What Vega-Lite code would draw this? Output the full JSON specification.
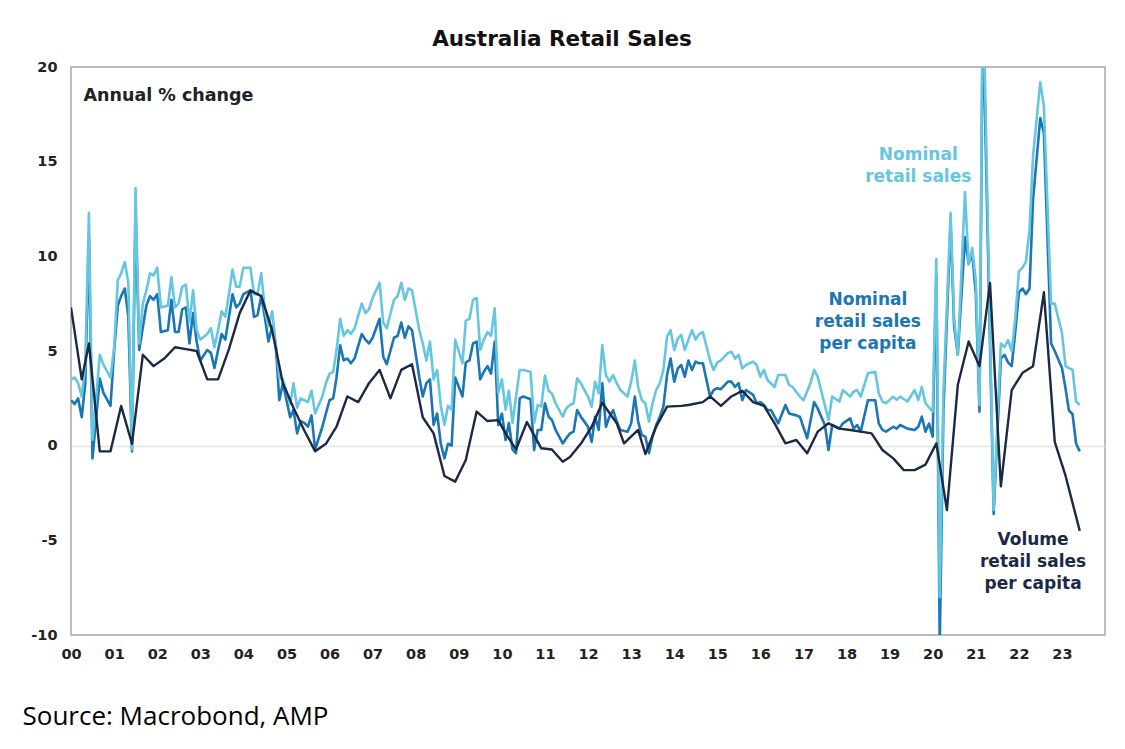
{
  "$schema": "https://vega.github.io/schema/vega-lite/v6.json",
  "width": 1034,
  "height": 568,
  "autosize": {"type": "none"},
  "padding": {"left": 71, "top": 67, "right": 20, "bottom": 114},
  "background": "white",
  "title": {
    "text": "Australia Retail Sales",
    "font": "DejaVu Sans",
    "fontSize": 21.5,
    "fontWeight": "bold",
    "color": "#111111",
    "anchor": "middle",
    "offset": 9,
    "dx": -26
  },
  "datasets": {
    "nominal": [
      {"d":"2000-01","v":3.5},{"d":"2000-02","v":3.6},{"d":"2000-03","v":3.3},{"d":"2000-04","v":2.6},{"d":"2000-05","v":4.3},{"d":"2000-06","v":12.3},{"d":"2000-07","v":0.3},{"d":"2000-09","v":4.8},{"d":"2000-10","v":4.3},{"d":"2000-12","v":3.6},
      {"d":"2001-01","v":5.2},{"d":"2001-02","v":8.75},{"d":"2001-03","v":9.1},{"d":"2001-04","v":9.7},{"d":"2001-05","v":8.6},{"d":"2001-06","v":-0.2},{"d":"2001-07","v":13.6},{"d":"2001-08","v":5.4},{"d":"2001-09","v":7.5},{"d":"2001-10","v":8.2},{"d":"2001-11","v":9.1},{"d":"2001-12","v":9.0},
      {"d":"2002-01","v":9.4},{"d":"2002-02","v":7.3},{"d":"2002-04","v":7.4},{"d":"2002-05","v":8.9},{"d":"2002-06","v":7.3},{"d":"2002-07","v":7.5},{"d":"2002-08","v":8.4},{"d":"2002-09","v":8.5},{"d":"2002-10","v":6.5},{"d":"2002-11","v":8.2},{"d":"2002-12","v":6.1},
      {"d":"2003-01","v":5.6},{"d":"2003-03","v":5.9},{"d":"2003-04","v":6.2},{"d":"2003-05","v":5.2},{"d":"2003-06","v":6.1},{"d":"2003-07","v":7.1},{"d":"2003-08","v":6.8},{"d":"2003-09","v":8.0},{"d":"2003-10","v":9.3},{"d":"2003-11","v":8.4},{"d":"2003-12","v":8.4},
      {"d":"2004-01","v":9.4},{"d":"2004-03","v":9.4},{"d":"2004-04","v":8.0},{"d":"2004-05","v":8.0},{"d":"2004-06","v":9.1},{"d":"2004-07","v":7.2},{"d":"2004-08","v":6.3},{"d":"2004-09","v":7.1},{"d":"2004-10","v":5.4},{"d":"2004-11","v":3.6},{"d":"2004-12","v":3.5},
      {"d":"2005-02","v":2.2},{"d":"2005-03","v":3.3},{"d":"2005-04","v":2.0},{"d":"2005-05","v":2.5},{"d":"2005-06","v":2.4},{"d":"2005-07","v":2.3},{"d":"2005-08","v":2.9},{"d":"2005-09","v":1.7},{"d":"2005-11","v":2.6},{"d":"2005-12","v":3.3},
      {"d":"2006-01","v":3.8},{"d":"2006-02","v":3.9},{"d":"2006-03","v":5.05},{"d":"2006-04","v":6.7},{"d":"2006-05","v":5.8},{"d":"2006-06","v":6.1},{"d":"2006-07","v":5.9},{"d":"2006-08","v":6.2},{"d":"2006-10","v":7.5},{"d":"2006-11","v":7.0},{"d":"2006-12","v":7.2},
      {"d":"2007-01","v":7.8},{"d":"2007-03","v":8.6},{"d":"2007-04","v":6.5},{"d":"2007-05","v":6.2},{"d":"2007-07","v":7.7},{"d":"2007-08","v":7.9},{"d":"2007-09","v":8.6},{"d":"2007-10","v":7.7},{"d":"2007-11","v":8.3},{"d":"2007-12","v":8.2},
      {"d":"2008-02","v":6.1},{"d":"2008-03","v":5.4},{"d":"2008-04","v":4.5},{"d":"2008-05","v":5.5},{"d":"2008-06","v":3.5},{"d":"2008-07","v":4.0},{"d":"2008-08","v":2.1},{"d":"2008-09","v":1.1},{"d":"2008-10","v":2.1},{"d":"2008-11","v":1.9},{"d":"2008-12","v":5.6},
      {"d":"2009-02","v":4.35},{"d":"2009-03","v":6.6},{"d":"2009-04","v":6.7},{"d":"2009-05","v":7.7},{"d":"2009-06","v":7.8},{"d":"2009-07","v":5.05},{"d":"2009-08","v":5.6},{"d":"2009-09","v":6.0},{"d":"2009-10","v":5.8},{"d":"2009-11","v":7.25},{"d":"2009-12","v":2.8},
      {"d":"2010-01","v":3.5},{"d":"2010-02","v":1.9},{"d":"2010-03","v":2.9},{"d":"2010-04","v":1.2},{"d":"2010-06","v":4.0},{"d":"2010-07","v":4.0},{"d":"2010-09","v":3.9},{"d":"2010-10","v":1.2},{"d":"2010-11","v":2.15},{"d":"2010-12","v":2.06},
      {"d":"2011-01","v":3.7},{"d":"2011-02","v":2.9},{"d":"2011-03","v":2.76},{"d":"2011-04","v":2.24},{"d":"2011-06","v":1.53},{"d":"2011-07","v":1.97},{"d":"2011-08","v":2.15},{"d":"2011-09","v":2.24},{"d":"2011-10","v":3.56},{"d":"2011-11","v":3.3},{"d":"2011-12","v":2.94},
      {"d":"2012-01","v":2.59},{"d":"2012-02","v":2.06},{"d":"2012-03","v":3.38},{"d":"2012-04","v":2.76},{"d":"2012-05","v":5.3},{"d":"2012-06","v":3.73},{"d":"2012-07","v":3.38},{"d":"2012-08","v":3.73},{"d":"2012-09","v":3.3},{"d":"2012-10","v":2.94},{"d":"2012-12","v":2.59},
      {"d":"2013-01","v":3.38},{"d":"2013-02","v":4.5},{"d":"2013-03","v":3.1},{"d":"2013-04","v":2.4},{"d":"2013-05","v":2.24},{"d":"2013-06","v":1.27},{"d":"2013-07","v":2.24},{"d":"2013-08","v":2.94},{"d":"2013-09","v":3.3},{"d":"2013-10","v":4.0},{"d":"2013-11","v":5.76},{"d":"2013-12","v":6.1},
      {"d":"2014-01","v":5.05},{"d":"2014-02","v":5.67},{"d":"2014-03","v":5.85},{"d":"2014-04","v":5.05},{"d":"2014-05","v":5.6},{"d":"2014-06","v":6.1},{"d":"2014-07","v":5.6},{"d":"2014-08","v":5.9},{"d":"2014-09","v":6.0},{"d":"2014-11","v":4.5},{"d":"2014-12","v":4.0},
      {"d":"2015-01","v":4.4},{"d":"2015-02","v":4.5},{"d":"2015-04","v":4.9},{"d":"2015-05","v":4.96},{"d":"2015-06","v":4.6},{"d":"2015-07","v":4.8},{"d":"2015-08","v":4.08},{"d":"2015-09","v":4.26},{"d":"2015-11","v":4.44},{"d":"2015-12","v":4.26},
      {"d":"2016-01","v":3.64},{"d":"2016-02","v":4.0},{"d":"2016-03","v":3.47},{"d":"2016-05","v":3.1},{"d":"2016-06","v":3.73},{"d":"2016-08","v":3.73},{"d":"2016-09","v":3.2},{"d":"2016-10","v":3.1},{"d":"2016-12","v":2.59},
      {"d":"2017-01","v":2.4},{"d":"2017-03","v":3.3},{"d":"2017-04","v":4.0},{"d":"2017-05","v":3.65},{"d":"2017-08","v":1.36},{"d":"2017-09","v":2.59},{"d":"2017-11","v":2.33},{"d":"2017-12","v":2.94},
      {"d":"2018-02","v":2.59},{"d":"2018-03","v":2.85},{"d":"2018-04","v":2.94},{"d":"2018-05","v":2.59},{"d":"2018-07","v":3.82},{"d":"2018-09","v":3.9},{"d":"2018-10","v":2.76},{"d":"2018-11","v":2.33},{"d":"2018-12","v":2.24},
      {"d":"2019-02","v":2.59},{"d":"2019-03","v":2.42},{"d":"2019-04","v":2.59},{"d":"2019-06","v":2.33},{"d":"2019-08","v":2.94},{"d":"2019-09","v":2.42},{"d":"2019-10","v":3.1},{"d":"2019-11","v":2.24},
      {"d":"2020-01","v":1.8},{"d":"2020-02","v":9.86},{"d":"2020-03","v":-8.0},{"d":"2020-04","v":2.8},{"d":"2020-06","v":12.3},{"d":"2020-07","v":6.7},{"d":"2020-08","v":4.8},{"d":"2020-10","v":13.4},{"d":"2020-11","v":9.57},{"d":"2020-12","v":10.45},
      {"d":"2021-01","v":8.7},{"d":"2021-02","v":2.15},{"d":"2021-03","v":25.0},{"d":"2021-06","v":-3.4},{"d":"2021-08","v":5.4},{"d":"2021-09","v":5.2},{"d":"2021-10","v":5.57},{"d":"2021-11","v":5.0},{"d":"2021-12","v":6.7},
      {"d":"2022-01","v":9.2},{"d":"2022-02","v":9.4},{"d":"2022-03","v":9.7},{"d":"2022-04","v":11.4},{"d":"2022-05","v":15.3},{"d":"2022-07","v":19.2},{"d":"2022-08","v":17.9},{"d":"2022-10","v":7.5},{"d":"2022-11","v":7.5},
      {"d":"2023-01","v":5.96},{"d":"2023-02","v":4.2},{"d":"2023-03","v":4.1},{"d":"2023-04","v":4.0},{"d":"2023-05","v":2.34},{"d":"2023-06","v":2.15}
    ],
    "percap": [
      {"d":"2000-01","v":2.4},{"d":"2000-02","v":2.2},{"d":"2000-03","v":2.5},{"d":"2000-04","v":1.5},{"d":"2000-05","v":3.3},{"d":"2000-06","v":11.0},{"d":"2000-07","v":-0.67},{"d":"2000-09","v":3.55},{"d":"2000-10","v":2.8},{"d":"2000-12","v":2.1},
      {"d":"2001-01","v":5.05},{"d":"2001-02","v":7.4},{"d":"2001-03","v":7.9},{"d":"2001-04","v":8.3},{"d":"2001-05","v":6.8},{"d":"2001-06","v":-0.3},{"d":"2001-07","v":12.3},{"d":"2001-08","v":5.05},{"d":"2001-10","v":7.4},{"d":"2001-11","v":7.9},{"d":"2001-12","v":7.7},
      {"d":"2002-01","v":8.0},{"d":"2002-02","v":6.0},{"d":"2002-04","v":6.1},{"d":"2002-05","v":7.7},{"d":"2002-06","v":6.0},{"d":"2002-07","v":6.0},{"d":"2002-08","v":7.2},{"d":"2002-09","v":7.3},{"d":"2002-10","v":5.4},{"d":"2002-11","v":7.0},{"d":"2002-12","v":5.5},
      {"d":"2003-01","v":4.5},{"d":"2003-03","v":5.05},{"d":"2003-04","v":4.9},{"d":"2003-05","v":4.1},{"d":"2003-06","v":5.05},{"d":"2003-07","v":5.9},{"d":"2003-08","v":5.6},{"d":"2003-09","v":6.8},{"d":"2003-10","v":8.0},{"d":"2003-11","v":7.3},{"d":"2003-12","v":7.5},
      {"d":"2004-01","v":8.0},{"d":"2004-03","v":8.2},{"d":"2004-04","v":6.8},{"d":"2004-05","v":6.9},{"d":"2004-06","v":7.9},{"d":"2004-07","v":6.8},{"d":"2004-08","v":5.5},{"d":"2004-09","v":6.3},{"d":"2004-10","v":5.4},{"d":"2004-11","v":2.4},{"d":"2004-12","v":3.3},
      {"d":"2005-02","v":1.5},{"d":"2005-03","v":1.9},{"d":"2005-04","v":0.65},{"d":"2005-05","v":1.3},{"d":"2005-06","v":1.2},{"d":"2005-07","v":1.0},{"d":"2005-08","v":1.6},{"d":"2005-09","v":-0.2},{"d":"2005-11","v":1.0},{"d":"2005-12","v":1.7},
      {"d":"2006-01","v":2.4},{"d":"2006-02","v":2.5},{"d":"2006-03","v":3.6},{"d":"2006-04","v":5.3},{"d":"2006-05","v":4.5},{"d":"2006-06","v":4.6},{"d":"2006-07","v":4.35},{"d":"2006-08","v":4.6},{"d":"2006-10","v":5.9},{"d":"2006-11","v":5.6},{"d":"2006-12","v":5.4},
      {"d":"2007-01","v":5.7},{"d":"2007-03","v":6.7},{"d":"2007-04","v":4.7},{"d":"2007-05","v":4.3},{"d":"2007-07","v":5.7},{"d":"2007-08","v":5.8},{"d":"2007-09","v":6.5},{"d":"2007-10","v":5.7},{"d":"2007-11","v":6.3},{"d":"2007-12","v":6.1},
      {"d":"2008-02","v":3.6},{"d":"2008-03","v":2.6},{"d":"2008-04","v":3.3},{"d":"2008-05","v":3.5},{"d":"2008-06","v":1.1},{"d":"2008-07","v":1.7},{"d":"2008-08","v":0.1},{"d":"2008-09","v":-0.67},{"d":"2008-10","v":0.1},{"d":"2008-11","v":0.0},{"d":"2008-12","v":3.6},
      {"d":"2009-02","v":2.6},{"d":"2009-03","v":4.4},{"d":"2009-04","v":4.5},{"d":"2009-05","v":5.4},{"d":"2009-06","v":5.5},{"d":"2009-07","v":3.5},{"d":"2009-08","v":3.9},{"d":"2009-09","v":4.2},{"d":"2009-10","v":3.8},{"d":"2009-11","v":5.5},{"d":"2009-12","v":1.1},
      {"d":"2010-01","v":1.7},{"d":"2010-02","v":0.3},{"d":"2010-03","v":1.2},{"d":"2010-04","v":-0.2},{"d":"2010-05","v":-0.4},{"d":"2010-06","v":2.5},{"d":"2010-07","v":2.6},{"d":"2010-09","v":2.45},{"d":"2010-10","v":-0.23},{"d":"2010-11","v":0.83},{"d":"2010-12","v":0.83},
      {"d":"2011-01","v":2.24},{"d":"2011-02","v":1.53},{"d":"2011-03","v":1.36},{"d":"2011-04","v":0.83},{"d":"2011-06","v":0.12},{"d":"2011-07","v":0.39},{"d":"2011-08","v":0.65},{"d":"2011-09","v":0.74},{"d":"2011-10","v":1.88},{"d":"2011-11","v":1.53},{"d":"2011-12","v":1.27},
      {"d":"2012-01","v":1.0},{"d":"2012-02","v":0.2},{"d":"2012-03","v":1.53},{"d":"2012-04","v":0.83},{"d":"2012-05","v":3.3},{"d":"2012-06","v":1.0},{"d":"2012-07","v":1.53},{"d":"2012-08","v":1.88},{"d":"2012-09","v":1.27},{"d":"2012-10","v":0.83},{"d":"2012-12","v":0.74},
      {"d":"2013-01","v":1.18},{"d":"2013-02","v":2.6},{"d":"2013-03","v":1.27},{"d":"2013-04","v":0.56},{"d":"2013-05","v":0.48},{"d":"2013-06","v":-0.4},{"d":"2013-07","v":0.48},{"d":"2013-08","v":1.09},{"d":"2013-09","v":1.53},{"d":"2013-10","v":2.06},{"d":"2013-11","v":3.73},{"d":"2013-12","v":4.6},
      {"d":"2014-01","v":3.38},{"d":"2014-02","v":4.08},{"d":"2014-03","v":4.26},{"d":"2014-04","v":3.64},{"d":"2014-05","v":4.5},{"d":"2014-06","v":4.0},{"d":"2014-07","v":4.44},{"d":"2014-08","v":4.35},{"d":"2014-09","v":4.35},{"d":"2014-11","v":2.6},{"d":"2014-12","v":2.94},
      {"d":"2015-01","v":3.03},{"d":"2015-02","v":2.98},{"d":"2015-04","v":3.38},{"d":"2015-05","v":3.38},{"d":"2015-06","v":3.1},{"d":"2015-07","v":3.3},{"d":"2015-08","v":2.4},{"d":"2015-09","v":2.94},{"d":"2015-11","v":2.68},{"d":"2015-12","v":2.24},
      {"d":"2016-01","v":2.3},{"d":"2016-02","v":2.15},{"d":"2016-03","v":1.88},{"d":"2016-04","v":1.88},{"d":"2016-06","v":1.18},{"d":"2016-08","v":2.15},{"d":"2016-09","v":1.7},{"d":"2016-11","v":1.6},{"d":"2016-12","v":1.53},
      {"d":"2017-02","v":0.39},{"d":"2017-04","v":2.3},{"d":"2017-05","v":1.97},{"d":"2017-07","v":1.09},{"d":"2017-08","v":-0.23},{"d":"2017-09","v":1.09},{"d":"2017-11","v":0.9},{"d":"2017-12","v":1.18},
      {"d":"2018-02","v":1.44},{"d":"2018-03","v":0.9},{"d":"2018-04","v":1.09},{"d":"2018-05","v":0.74},{"d":"2018-07","v":2.4},{"d":"2018-09","v":2.4},{"d":"2018-10","v":1.18},{"d":"2018-11","v":0.83},{"d":"2018-12","v":0.74},
      {"d":"2019-02","v":1.0},{"d":"2019-03","v":0.9},{"d":"2019-04","v":1.09},{"d":"2019-06","v":0.9},{"d":"2019-08","v":0.83},{"d":"2019-09","v":1.0},{"d":"2019-10","v":1.53},{"d":"2019-11","v":0.74},{"d":"2019-12","v":1.17},
      {"d":"2020-01","v":0.48},{"d":"2020-02","v":9.0},{"d":"2020-03","v":-10.5},{"d":"2020-04","v":1.8},{"d":"2020-06","v":11.8},{"d":"2020-07","v":6.3},{"d":"2020-08","v":4.8},{"d":"2020-10","v":11.0},{"d":"2020-11","v":9.6},{"d":"2020-12","v":10.2},
      {"d":"2021-01","v":8.0},{"d":"2021-02","v":1.8},{"d":"2021-03","v":23.0},{"d":"2021-06","v":-3.6},{"d":"2021-08","v":4.6},{"d":"2021-09","v":4.8},{"d":"2021-10","v":4.4},{"d":"2021-11","v":4.2},{"d":"2021-12","v":6.0},
      {"d":"2022-01","v":8.1},{"d":"2022-02","v":8.3},{"d":"2022-03","v":8.0},{"d":"2022-04","v":8.3},{"d":"2022-05","v":13.0},{"d":"2022-07","v":17.3},{"d":"2022-08","v":16.5},{"d":"2022-10","v":5.4},{"d":"2022-11","v":5.0},
      {"d":"2023-01","v":4.1},{"d":"2023-02","v":3.0},{"d":"2023-03","v":1.86},{"d":"2023-04","v":1.66},{"d":"2023-05","v":0.1},{"d":"2023-06","v":-0.3}
    ],
    "volume": [
      {"d":"2000-01","v":7.3},{"d":"2000-04","v":3.5},{"d":"2000-06","v":5.4},{"d":"2000-09","v":-0.3},{"d":"2000-12","v":-0.3},
      {"d":"2001-03","v":2.1},{"d":"2001-06","v":0.1},{"d":"2001-09","v":4.8},{"d":"2001-12","v":4.2},
      {"d":"2002-03","v":4.6},{"d":"2002-06","v":5.2},{"d":"2002-09","v":5.1},{"d":"2002-12","v":5.0},
      {"d":"2003-03","v":3.5},{"d":"2003-06","v":3.5},{"d":"2003-09","v":5.1},{"d":"2003-12","v":7.0},
      {"d":"2004-03","v":8.2},{"d":"2004-06","v":7.9},{"d":"2004-09","v":6.1},{"d":"2004-12","v":3.3},
      {"d":"2005-03","v":2.0},{"d":"2005-06","v":0.8},{"d":"2005-09","v":-0.3},{"d":"2005-12","v":0.1},
      {"d":"2006-03","v":1.0},{"d":"2006-06","v":2.6},{"d":"2006-09","v":2.3},{"d":"2006-12","v":3.3},
      {"d":"2007-03","v":4.0},{"d":"2007-06","v":2.5},{"d":"2007-09","v":4.0},{"d":"2007-12","v":4.3},
      {"d":"2008-03","v":1.5},{"d":"2008-06","v":0.65},{"d":"2008-09","v":-1.6},{"d":"2008-12","v":-1.9},
      {"d":"2009-03","v":-0.76},{"d":"2009-06","v":1.8},{"d":"2009-09","v":1.3},{"d":"2009-12","v":1.35},
      {"d":"2010-02","v":0.65},{"d":"2010-05","v":-0.2},{"d":"2010-08","v":1.25},{"d":"2010-12","v":-0.14},
      {"d":"2011-03","v":-0.2},{"d":"2011-06","v":-0.85},{"d":"2011-08","v":-0.6},{"d":"2011-11","v":0.1},
      {"d":"2012-02","v":1.0},{"d":"2012-05","v":2.27},{"d":"2012-09","v":1.18},{"d":"2012-11","v":0.12},
      {"d":"2013-03","v":0.83},{"d":"2013-05","v":-0.44},{"d":"2013-08","v":1.0},{"d":"2013-11","v":2.06},
      {"d":"2014-03","v":2.1},{"d":"2014-05","v":2.15},{"d":"2014-09","v":2.3},{"d":"2014-11","v":2.6},
      {"d":"2015-02","v":2.1},{"d":"2015-05","v":2.6},{"d":"2015-08","v":2.9},{"d":"2015-11","v":2.3},
      {"d":"2016-02","v":2.1},{"d":"2016-05","v":1.18},{"d":"2016-08","v":0.12},{"d":"2016-11","v":0.3},
      {"d":"2017-02","v":-0.4},{"d":"2017-05","v":0.74},{"d":"2017-08","v":1.18},{"d":"2017-11","v":0.9},
      {"d":"2018-02","v":0.83},{"d":"2018-05","v":0.74},{"d":"2018-08","v":0.65},{"d":"2018-11","v":-0.23},
      {"d":"2019-02","v":-0.67},{"d":"2019-05","v":-1.29},{"d":"2019-08","v":-1.29},{"d":"2019-11","v":-1.0},
      {"d":"2020-02","v":0.12},{"d":"2020-05","v":-3.4},{"d":"2020-08","v":3.2},{"d":"2020-11","v":5.5},
      {"d":"2021-02","v":4.2},{"d":"2021-05","v":8.6},{"d":"2021-08","v":-2.15},{"d":"2021-11","v":2.93},
      {"d":"2022-02","v":3.85},{"d":"2022-05","v":4.2},{"d":"2022-08","v":8.1},{"d":"2022-11","v":0.2},
      {"d":"2023-02","v":-1.6},{"d":"2023-06","v":-4.5}
    ],
    "labels": [
      {"d":"2019-09","v":15.35,"s":"N","t":"Nominal\nretail sales"},
      {"d":"2018-07","v":7.7,"s":"P","t":"Nominal\nretail sales\nper capita"},
      {"d":"2022-05","v":-4.98,"s":"V","t":"Volume\nretail sales\nper capita"}
    ]
  },
  "encoding": {
    "x": {
      "field": "d",
      "type": "temporal",
      "scale": {
        "type": "utc",
        "domain": [
          {"year": 2000, "month": 1, "date": 1, "utc": true},
          {"year": 2024, "month": 1, "date": 1, "utc": true}
        ]
      },
      "axis": {
        "tickCount": {"interval": "year", "step": 1},
        "labelExpr": "utcyear(datum.value) < 2024 ? utcFormat(datum.value, '%y') : ''",
        "labelFont": "DejaVu Sans",
        "labelFontSize": 14.5,
        "labelFontWeight": "bold",
        "labelColor": "#222222",
        "labelAlign": "center",
        "labelPadding": 12,
        "labelOverlap": false,
        "labelFlush": false,
        "ticks": false,
        "domain": false,
        "grid": false,
        "title": "Source: Macrobond, AMP",
        "titleFont": "Open Sans",
        "titleFontSize": 26,
        "titleFontWeight": "normal",
        "titleColor": "#000000",
        "titleAlign": "left",
        "titleAnchor": "start",
        "titleBaseline": "alphabetic",
        "titleX": -49,
        "titleY": 89
      }
    },
    "y": {
      "field": "v",
      "type": "quantitative",
      "scale": {"domain": [-10, 20], "nice": false, "zero": false},
      "axis": {
        "values": [-10, -5, 0, 5, 10, 15, 20],
        "labelExpr": "datum.value + ''",
        "labelFont": "DejaVu Sans",
        "labelFontSize": 14.5,
        "labelFontWeight": "bold",
        "labelColor": "#222222",
        "labelPadding": 14,
        "ticks": false,
        "domain": false,
        "grid": true,
        "gridColor": {"condition": {"test": "datum.value === 0", "value": "#e4e4e4"}, "value": "rgba(0,0,0,0)"},
        "gridWidth": 1.5,
        "title": "Annual % change",
        "titleFont": "DejaVu Sans",
        "titleFontSize": 17.5,
        "titleFontWeight": "bold",
        "titleColor": "#222222",
        "titleAngle": 0,
        "titleAlign": "left",
        "titleBaseline": "middle",
        "titleX": 12,
        "titleY": 28
      }
    }
  },
  "layer": [
    {
      "data": {"name": "percap"},
      "mark": {"type": "line", "color": "#1a76b4", "strokeWidth": 2.6, "clip": true, "strokeJoin": "round"}
    },
    {
      "data": {"name": "nominal"},
      "mark": {"type": "line", "color": "#66c6e0", "strokeWidth": 2.6, "clip": true, "strokeJoin": "round"}
    },
    {
      "data": {"name": "volume"},
      "mark": {"type": "line", "color": "#1c2946", "strokeWidth": 2.4, "clip": true, "strokeJoin": "round"}
    },
    {
      "data": {"name": "labels"},
      "mark": {
        "type": "text",
        "font": "DejaVu Sans",
        "fontSize": 17,
        "fontWeight": "bold",
        "lineBreak": "\n",
        "lineHeight": 22,
        "align": "center",
        "baseline": "middle"
      },
      "encoding": {
        "text": {"field": "t"},
        "color": {
          "field": "s",
          "type": "nominal",
          "scale": {"domain": ["N", "P", "V"], "range": ["#66c6e0", "#1a76b4", "#1c2946"]},
          "legend": null
        }
      }
    }
  ],
  "config": {
    "view": {"stroke": "#a6a6a6", "strokeWidth": 1.5}
  }
}
